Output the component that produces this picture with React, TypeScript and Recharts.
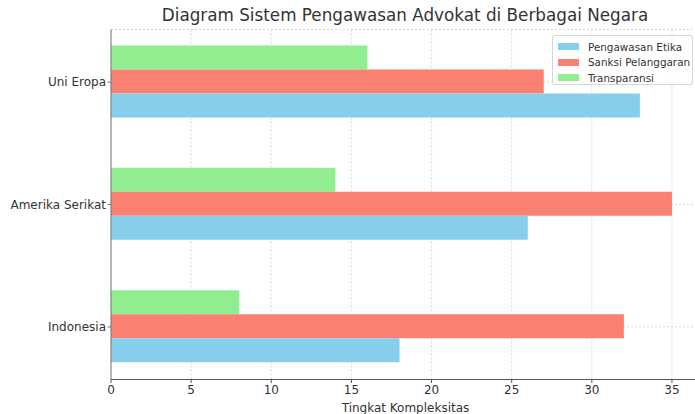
import { BarChart, Bar, XAxis, YAxis, CartesianGrid } from "recharts";

// categories listed top to bottom as they appear in the chart
const categories = ["Uni Eropa", "Amerika Serikat", "Indonesia"];
const pengawasanEtika = [33, 26, 18];
const sanksiPelanggaran = [27, 35, 32];
const transparansi = [16, 14, 8];
const xTicks = [0, 5, 10, 15, 20, 25, 30, 35];

const legendItems = [
  { name: "Pengawasan Etika", color: "#87CEEB" },
  { name: "Sanksi Pelanggaran", color: "#FA8072" },
  { name: "Transparansi", color: "#90EE90" },
];

const font = "'DejaVu Sans', sans-serif";
const textColor = "#333";

const App = () => {
  const data = categories.map((c, i) => ({
    country: c,
    etika: pengawasanEtika[i],
    sanksi: sanksiPelanggaran[i],
    transparansi: transparansi[i],
  }));

  return (
    <div
      style={{
        position: "absolute",
        left: 0,
        top: 0,
        width: 695,
        height: 414,
        overflow: "hidden",
        background: "#fff",
        fontFamily: font,
      }}
    >
      <div
        style={{
          position: "absolute",
          left: 405,
          top: 5,
          transform: "translateX(-50%)",
          whiteSpace: "nowrap",
          fontSize: 16.8,
          color: textColor,
          lineHeight: "20px",
        }}
      >
        Diagram Sistem Pengawasan Advokat di Berbagai Negara
      </div>

      <BarChart
        layout="vertical"
        width={700}
        height={414}
        data={data}
        margin={{ top: 29.5, right: 0, bottom: 0, left: 0 }}
        barCategoryGap="20%"
        barGap={0}
      >
        <XAxis
          type="number"
          domain={[0, 36.75]}
          ticks={xTicks}
          allowDataOverflow
          height={34.5}
          tickSize={3.5}
          tickMargin={2}
          axisLine={{ stroke: "#555" }}
          tickLine={{ stroke: "#555" }}
          tick={{ fill: textColor, fontSize: 12, fontFamily: font }}
          label={{
            value: "Tingkat Kompleksitas",
            position: "insideBottom",
            offset: 2,
            fill: textColor,
            fontSize: 12,
            fontFamily: font,
          }}
        />
        <YAxis
          type="category"
          dataKey="country"
          width={111}
          padding={{ top: -8.6, bottom: -8.6 }}
          tickSize={3.5}
          tickMargin={1.5}
          axisLine={{ stroke: "#777" }}
          tickLine={{ stroke: "#777" }}
          tick={{ fill: textColor, fontSize: 12, fontFamily: font }}
        />
        <Bar dataKey="transparansi" fill="#90EE90" isAnimationActive={false} />
        <Bar dataKey="sanksi" fill="#FA8072" isAnimationActive={false} />
        <Bar dataKey="etika" fill="#87CEEB" isAnimationActive={false} />
        <CartesianGrid
          strokeDasharray="2 2"
          stroke="#b0b0b0"
          strokeOpacity={0.5}
        />
      </BarChart>

      <div
        style={{
          position: "absolute",
          left: 552,
          top: 35,
          width: 141,
          height: 50,
          boxSizing: "border-box",
          border: "1px solid #d5d5d5",
          borderRadius: 3,
          background: "rgba(255,255,255,0.8)",
          padding: "3px 0 0 5px",
        }}
      >
        {legendItems.map((it) => (
          <div
            key={it.name}
            style={{
              display: "flex",
              alignItems: "center",
              height: 15.5,
              fontSize: 10.4,
              color: textColor,
              whiteSpace: "nowrap",
            }}
          >
            <span
              style={{
                display: "inline-block",
                width: 21,
                height: 7,
                background: it.color,
                marginRight: 9,
              }}
            />
            {it.name}
          </div>
        ))}
      </div>
    </div>
  );
};

export default App;
